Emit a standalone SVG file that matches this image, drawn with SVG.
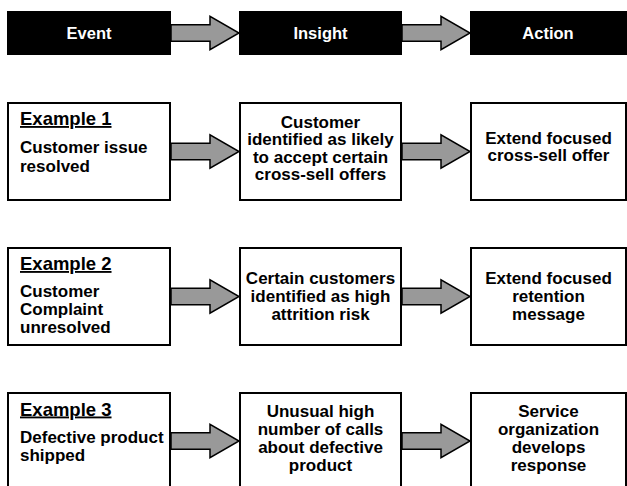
<svg xmlns="http://www.w3.org/2000/svg" xmlns:xlink="http://www.w3.org/1999/xlink" width="627" height="486" viewBox="0 0 627 486">
  <style>
    text { font-family: "Liberation Sans", Arial, sans-serif; font-weight: bold; font-size: 17px; fill: #000; }
    .head { fill: #000; stroke: none; }
    .head-label { fill: #fff; text-anchor: middle; font-size: 16.5px; }
    .box { fill: #fff; stroke: #000; stroke-width: 2; }
    .title { font-size: 18.5px; text-decoration: underline; }
    .mid { text-anchor: middle; }
    .arrow { fill: #999999; stroke: #000; stroke-width: 1.5; stroke-linejoin: miter; }
  </style>
  <defs>
    <!-- block arrow, drawn with its tip at (68,0) -->
    <path id="blockArrow" d="M0,-8.3 H39 V-16.7 L68,0 L39,16.7 V8.3 H0 Z"/>
  </defs>

  <rect width="627" height="486" fill="#fff"/>

  <!-- header bar -->
  <g id="header-event">
    <rect class="head" x="7" y="11" width="164" height="44"/>
    <text class="head-label" x="89" y="39">Event</text>
  </g>
  <g id="header-insight">
    <rect class="head" x="239" y="11" width="163" height="44"/>
    <text class="head-label" x="320.5" y="39">Insight</text>
  </g>
  <g id="header-action">
    <rect class="head" x="470" y="11" width="157" height="44"/>
    <text class="head-label" x="548" y="39">Action</text>
  </g>

  <!-- example 1 -->
  <g id="ex1-event">
    <rect class="box" x="8" y="103" width="162" height="97"/>
    <text class="title" x="20" y="125">Example 1</text>
    <text x="20" y="153">Customer issue</text>
    <text x="20" y="171.5">resolved</text>
  </g>
  <g id="ex1-insight">
    <rect class="box" x="240" y="103" width="161" height="97"/>
    <text class="mid" x="320.5" y="127.5">Customer</text>
    <text class="mid" x="320.5" y="145">identified as likely</text>
    <text class="mid" x="320.5" y="162.5">to accept certain</text>
    <text class="mid" x="320.5" y="180">cross-sell offers</text>
  </g>
  <g id="ex1-action">
    <rect class="box" x="471" y="103" width="155" height="97"/>
    <text class="mid" x="548.5" y="143.5">Extend focused</text>
    <text class="mid" x="548.5" y="161">cross-sell offer</text>
  </g>

  <!-- example 2 -->
  <g id="ex2-event">
    <rect class="box" x="8" y="248" width="162" height="97"/>
    <text class="title" x="20" y="270">Example 2</text>
    <text x="20" y="296.5">Customer</text>
    <text x="20" y="314.5">Complaint</text>
    <text x="20" y="332.5">unresolved</text>
  </g>
  <g id="ex2-insight">
    <rect class="box" x="240" y="248" width="161" height="97"/>
    <text class="mid" x="320.5" y="283.5">Certain customers</text>
    <text class="mid" x="320.5" y="301.5">identified as high</text>
    <text class="mid" x="320.5" y="319.5">attrition risk</text>
  </g>
  <g id="ex2-action">
    <rect class="box" x="471" y="248" width="155" height="97"/>
    <text class="mid" x="548.5" y="283.5">Extend focused</text>
    <text class="mid" x="548.5" y="301.5">retention</text>
    <text class="mid" x="548.5" y="319.5">message</text>
  </g>

  <!-- example 3 -->
  <g id="ex3-event">
    <rect class="box" x="8" y="393" width="162" height="97"/>
    <text class="title" x="20" y="415.5">Example 3</text>
    <text x="20" y="443">Defective product</text>
    <text x="20" y="461">shipped</text>
  </g>
  <g id="ex3-insight">
    <rect class="box" x="240" y="393" width="161" height="97"/>
    <text class="mid" x="320.5" y="417">Unusual high</text>
    <text class="mid" x="320.5" y="435">number of calls</text>
    <text class="mid" x="320.5" y="453">about defective</text>
    <text class="mid" x="320.5" y="471">product</text>
  </g>
  <g id="ex3-action">
    <rect class="box" x="471" y="393" width="155" height="97"/>
    <text class="mid" x="548.5" y="417">Service</text>
    <text class="mid" x="548.5" y="435">organization</text>
    <text class="mid" x="548.5" y="453">develops</text>
    <text class="mid" x="548.5" y="471">response</text>
  </g>

  <!-- connectors -->
  <g id="connectors">
    <use xlink:href="#blockArrow" class="arrow" x="171" y="33"/>
    <use xlink:href="#blockArrow" class="arrow" x="402" y="33"/>
    <use xlink:href="#blockArrow" class="arrow" x="171" y="151.5"/>
    <use xlink:href="#blockArrow" class="arrow" x="402" y="151.5"/>
    <use xlink:href="#blockArrow" class="arrow" x="171" y="296.5"/>
    <use xlink:href="#blockArrow" class="arrow" x="402" y="296.5"/>
    <use xlink:href="#blockArrow" class="arrow" x="171" y="441"/>
    <use xlink:href="#blockArrow" class="arrow" x="402" y="441"/>
  </g>
</svg>
